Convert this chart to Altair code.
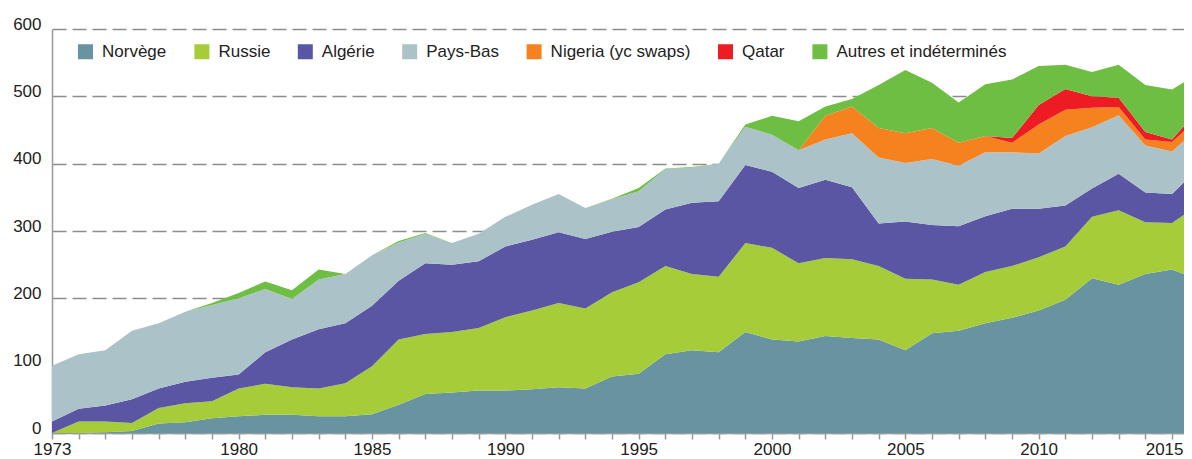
import altair as alt
import pandas as pd

years = list(range(1973, 2017))
label_years = [1973, 1980, 1985, 1990, 1995, 2000, 2005, 2010, 2015]

norvege = [0, 0, 1, 3, 14, 16, 22, 25, 27, 27, 25, 25, 28, 42, 58, 60, 63, 63, 65, 68, 66, 84,
           88, 117, 123, 120, 150, 139, 136, 144, 141, 139, 123, 148, 152, 163, 171, 182, 198,
           230, 220, 236, 243, 228]
russie = [0, 17, 16, 12, 23, 28, 25, 41, 46, 41, 41, 49, 71, 97, 89, 90, 93, 109, 117, 125, 119,
          125, 136, 131, 113, 112, 132, 136, 116, 116, 117, 109, 106, 80, 68, 76, 77, 79, 79, 91,
          111, 77, 69, 111]
algerie = [17, 19, 24, 35, 29, 32, 35, 21, 47, 71, 88, 89, 90, 87, 105, 100, 99, 105, 105, 105,
           103, 90, 82, 84, 106, 112, 116, 113, 112, 116, 107, 63, 85, 81, 87, 83, 85, 72, 61, 42,
           54, 44, 43, 55]
pays_bas = [83, 81, 82, 102, 97, 104, 108, 113, 94, 60, 74, 73, 75, 57, 44, 32, 41, 44, 52, 57,
            46, 48, 53, 60, 52, 56, 57, 55, 56, 60, 80, 98, 87, 98, 90, 95, 84, 82, 103, 91, 87,
            70, 63, 60]
nigeria = [0] * 29 + [35, 40, 44, 44, 46, 34, 24, 14, 43, 39, 29, 12, 9, 14, 15]
qatar = [0] * 35 + [0, 7, 29, 31, 17, 14, 11, 4, 11]
autres = [0, 0, 0, 0, 0, 0, 3, 8, 11, 13, 15, 0, 0, 2, 1, 0, 0, 0, 0, 0, 0, 1, 5, 1, 1, 0, 3,
          28, 43, 14, 11, 64, 94, 67, 60, 77, 87, 58, 36, 36, 49, 70, 74, 54]

series_names = ["Norvège", "Russie", "Algérie", "Pays-Bas", "Nigeria (yc swaps)", "Qatar",
                "Autres et indéterminés"]
series_values = [norvege, russie, algerie, pays_bas, nigeria, qatar, autres]
colors = ["#6893a0", "#a6cd39", "#5b56a3", "#abc3c8", "#f5821f", "#ed1c24", "#6fbe44"]

rows = []
for idx, (name, vals) in enumerate(zip(series_names, series_values)):
    for yr, v in zip(years, vals):
        rows.append({"annee": yr, "valeur": v, "pays": name, "ordre": idx})
df = pd.DataFrame(rows)

font = "Liberation Sans"
label_expr = ("indexof([" + ",".join(str(y) for y in label_years) +
              "], datum.value) >= 0 ? format(datum.value, 'd') : ''")

chart = alt.Chart(df).mark_area(clip=True, interpolate="linear").encode(
    x=alt.X("annee:Q",
            scale=alt.Scale(domain=[1973, 2015.45], nice=False, zero=False),
            axis=alt.Axis(title=None, values=list(range(1973, 2016)),
                          labelExpr=label_expr,
                          labelFlush=False, labelOverlap=False, labelBound=False,
                          labelAlign=alt.condition("datum.value == 2015",
                                                   alt.value("right"), alt.value("center")),
                          labelOffset=alt.condition("datum.value == 2015",
                                                    alt.value(11), alt.value(0)),
                          tickSize=6, tickColor="#999999", tickWidth=1.5,
                          domainColor="#999999", domainWidth=1.5,
                          labelFontSize=17, labelFont=font, labelColor="#222222",
                          labelPadding=2, grid=False)),
    y=alt.Y("valeur:Q", stack="zero",
            scale=alt.Scale(domain=[0, 600], nice=False),
            axis=alt.Axis(title=None, values=[0, 100, 200, 300, 400, 500, 600],
                          ticks=False, labelPadding=11, labelBaseline="alphabetic",
                          labelFontSize=17, labelFont=font, labelColor="#222222",
                          domainColor="#999999", domainWidth=1.5,
                          grid=True, gridColor="#8c8c8c", gridWidth=1.5, gridDash=[14, 6])),
    color=alt.Color("pays:N",
                    scale=alt.Scale(domain=series_names, range=colors),
                    legend=alt.Legend(title=None, orient="none", legendX=25, legendY=14,
                                      direction="horizontal", columns=7,
                                      symbolType="square", symbolSize=225,
                                      symbolStrokeWidth=0, symbolOpacity=1,
                                      labelFontSize=17, labelFont=font, labelColor="#222222",
                                      labelLimit=0, labelOffset=8, columnPadding=26.4,
                                      padding=0)),
    order=alt.Order("ordre:Q", sort="ascending"),
).properties(
    width=1132, height=404,
    autosize=alt.AutoSizeParams(type="none"),
    padding={"left": 44, "top": 21, "right": 0, "bottom": 26},
).configure_view(stroke=None)

chart.save("out.html", embed_options={"renderer": "svg", "actions": False})
